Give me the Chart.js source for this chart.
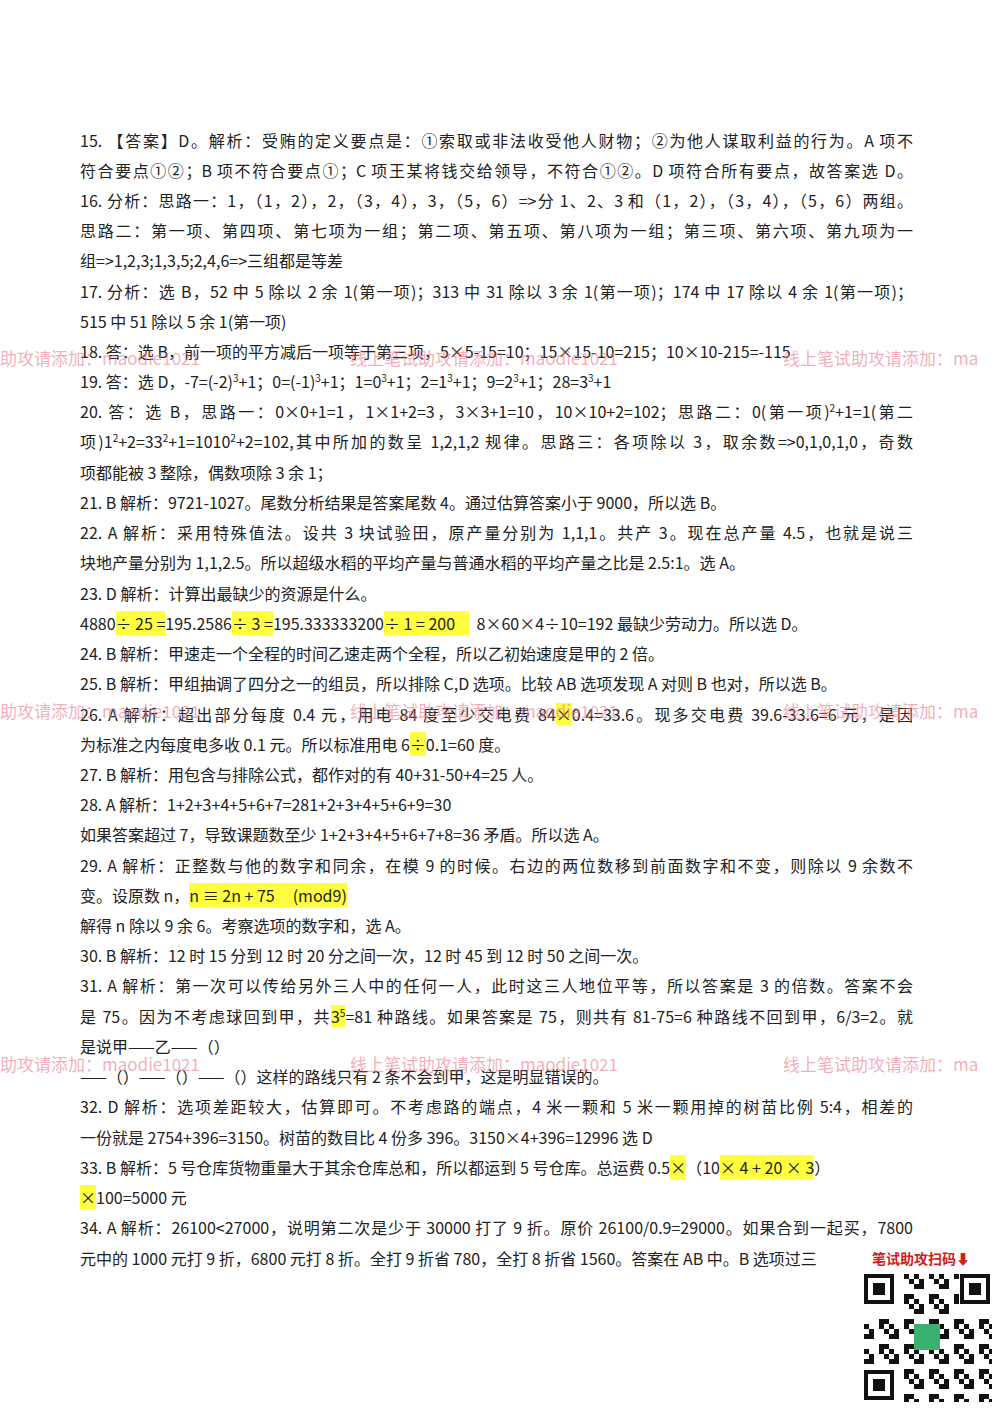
<!DOCTYPE html>
<html><head><meta charset="utf-8">
<script src="https://cdn.jsdelivr.net/npm/chart.js@4"></script>
<style>
body{margin:0;width:1000px;height:1414px;background:#fff;position:relative;overflow:hidden;font-family:"Noto Sans CJK SC","Noto Sans",serif;color:#222}
.l{position:absolute;left:80px;width:833px;font-size:16px;line-height:22px;white-space:nowrap}
.j{text-align:justify;text-align-last:justify;white-space:normal;height:22px;overflow:hidden}
.hl{background:#ffff40}
.w{position:absolute;font-size:17px;color:rgba(235,120,140,0.6);white-space:nowrap}
#qr{position:absolute;left:862px;top:1272px;width:130px;height:130px}
#qt{position:absolute;left:872px;top:1248px;font-size:14px;font-weight:bold;color:#d02020}
</style></head><body>
<div id="txt"></div>
<div class="w" style="left:0;top:345px">助攻请添加：maodie1021</div>
<div class="w" style="left:350px;top:345px">线上笔试助攻请添加：maodie1021</div>
<div class="w" style="left:783px;top:345px">线上笔试助攻请添加：ma</div>
<div class="w" style="left:0;top:698px">助攻请添加：maodie1021</div>
<div class="w" style="left:350px;top:698px">线上笔试助攻请添加：maodie1021</div>
<div class="w" style="left:783px;top:698px">线上笔试助攻请添加：ma</div>
<div class="w" style="left:0;top:1051px">助攻请添加：maodie1021</div>
<div class="w" style="left:350px;top:1051px">线上笔试助攻请添加：maodie1021</div>
<div class="w" style="left:783px;top:1051px">线上笔试助攻请添加：ma</div>
<div id="qt">笔试助攻扫码⬇</div>
<canvas id="qr" width="130" height="130"></canvas>
<script>
const lines=[
[140,1,"15. 【答案】D。解析：受贿的定义要点是：①索取或非法收受他人财物；②为他人谋取利益的行为。A 项不"],
[170,1,"符合要点①②；B 项不符合要点①；C 项王某将钱交给领导，不符合①②。D 项符合所有要点，故答案选 D。"],
[200,1,"16. 分析：思路一：1，（1，2），2，（3，4），3，（5，6）=>分 1、2、3 和（1，2），（3，4），（5，6）两组。"],
[230,1,"思路二：第一项、第四项、第七项为一组；第二项、第五项、第八项为一组；第三项、第六项、第九项为一"],
[260,0,"组=>1,2,3;1,3,5;2,4,6=>三组都是等差"],
[291,1,"17. 分析：选 B，52 中 5 除以 2 余 1(第一项)；313 中 31 除以 3 余 1(第一项)；174 中 17 除以 4 余 1(第一项)；"],
[321,0,"515 中 51 除以 5 余 1(第一项)"],
[351,0,"18. 答：选 B，前一项的平方减后一项等于第三项，5×5-15=10；15×15-10=215；10×10-215=-115"],
[381,0,"19. 答：选 D，-7=(-2)<sup>3</sup>+1；0=(-1)<sup>3</sup>+1；1=0<sup>3</sup>+1；2=1<sup>3</sup>+1；9=2<sup>3</sup>+1；28=3<sup>3</sup>+1"],
[411,1,"20. 答：选 B，思路一：0×0+1=1，1×1+2=3，3×3+1=10，10×10+2=102；思路二：0(第一项)<sup>2</sup>+1=1(第二"],
[441,1,"项)1<sup>2</sup>+2=33<sup>2</sup>+1=1010<sup>2</sup>+2=102,其中所加的数呈 1,2,1,2 规律。思路三：各项除以 3，取余数=>0,1,0,1,0，奇数"],
[472,0,"项都能被 3 整除，偶数项除 3 余 1；"],
[502,0,"21. B 解析：9721-1027。尾数分析结果是答案尾数 4。通过估算答案小于 9000，所以选 B。"],
[532,1,"22. A 解析：采用特殊值法。设共 3 块试验田，原产量分别为 1,1,1。共产 3。现在总产量 4.5，也就是说三"],
[562,0,"块地产量分别为 1,1,2.5。所以超级水稻的平均产量与普通水稻的平均产量之比是 2.5:1。选 A。"],
[593,0,"23. D 解析：计算出最缺少的资源是什么。"],
[623,0,"4880<span class=hl>÷ 25 =</span>195.2586<span class=hl>÷ 3 =</span>195.333333200<span class=hl>÷ 1 = 200&nbsp;&nbsp;&nbsp;&nbsp;</span>&nbsp;&nbsp;8×60×4÷10=192 最缺少劳动力。所以选 D。"],
[653,0,"24. B 解析：甲速走一个全程的时间乙速走两个全程，所以乙初始速度是甲的 2 倍。"],
[683,0,"25. B 解析：甲组抽调了四分之一的组员，所以排除 C,D 选项。比较 AB 选项发现 A 对则 B 也对，所以选 B。"],
[714,1,"26. A 解析：超出部分每度 0.4 元，用电 84 度至少交电费 84<span class=hl>×</span>0.4=33.6。现多交电费 39.6-33.6=6 元，是因"],
[744,0,"为标准之内每度电多收 0.1 元。所以标准用电 6<span class=hl>÷</span>0.1=60 度。"],
[774,0,"27. B 解析：用包含与排除公式，都作对的有 40+31-50+4=25 人。"],
[804,0,"28. A 解析：1+2+3+4+5+6+7=281+2+3+4+5+6+9=30"],
[834,0,"如果答案超过 7，导致课题数至少 1+2+3+4+5+6+7+8=36 矛盾。所以选 A。"],
[865,1,"29. A 解析：正整数与他的数字和同余，在模 9 的时候。右边的两位数移到前面数字和不变，则除以 9 余数不"],
[895,0,"变。设原数 n，<span class=hl>n ≡ 2n + 75&nbsp;&nbsp;&nbsp;&nbsp; (mod9)</span>"],
[925,0,"解得 n 除以 9 余 6。考察选项的数字和，选 A。"],
[955,0,"30. B 解析：12 时 15 分到 12 时 20 分之间一次，12 时 45 到 12 时 50 之间一次。"],
[985,1,"31. A 解析：第一次可以传给另外三人中的任何一人，此时这三人地位平等，所以答案是 3 的倍数。答案不会"],
[1016,1,"是 75。因为不考虑球回到甲，共<span class=hl>3<sup>5</sup></span>=81 种路线。如果答案是 75，则共有 81-75=6 种路线不回到甲，6/3=2。就"],
[1046,0,"是说甲——乙——（）"],
[1076,0,"——（）——（）——（）这样的路线只有 2 条不会到甲，这是明显错误的。"],
[1106,1,"32. D 解析：选项差距较大，估算即可。不考虑路的端点，4 米一颗和 5 米一颗用掉的树苗比例 5:4，相差的"],
[1137,0,"一份就是 2754+396=3150。树苗的数目比 4 份多 396。3150×4+396=12996 选 D"],
[1167,0,"33. B 解析：5 号仓库货物重量大于其余仓库总和，所以都运到 5 号仓库。总运费 0.5<span class=hl>×</span>（10<span class=hl>× 4 + 20 × 3</span>）"],
[1197,0,"<span class=hl>×</span>100=5000 元"],
[1227,1,"34. A 解析：26100&lt;27000，说明第二次是少于 30000 打了 9 折。原价 26100/0.9=29000。如果合到一起买，7800"],
[1258,0,"元中的 1000 元打 9 折，6800 元打 8 折。全打 9 折省 780，全打 8 折省 1560。答案在 AB 中。B 选项过三"]
];
const t=document.getElementById('txt');
for(const [y,j,s] of lines){const d=document.createElement('div');d.className='l'+(j?' j':'');d.style.top=(y-11)+'px';d.innerHTML=s.replace(/<sup>/g,'<sup style="font-size:10px;line-height:0">');t.appendChild(d);}
// QR placeholder drawn with Chart.js plugin
new Chart(document.getElementById('qr'),{type:'scatter',data:{datasets:[]},options:{responsive:false,animation:false,plugins:{legend:{display:false},tooltip:{enabled:false}},scales:{x:{display:false},y:{display:false}},layout:{padding:0}},
plugins:[{id:'qr',afterDraw(c){const g=c.ctx;g.fillStyle='#111';
const f=(x,y)=>{g.fillRect(x,y,30,30);g.fillStyle='#fff';g.fillRect(x+4,y+4,22,22);g.fillStyle='#111';g.fillRect(x+9,y+9,12,12);};
f(2,2);f(98,2);f(2,98);
for(let i=0;i<26;i++)for(let k=0;k<26;k++){if((i<8&&k<8)||(i>18&&k<8)||(i<8&&k>18))continue;if(((i*7+k*13+i*k)%5)<2)g.fillRect(2+i*5,2+k*5,5,5);}
g.fillStyle='#3cb070';g.fillRect(52,52,26,26);}}]});
</script>
</body></html>
